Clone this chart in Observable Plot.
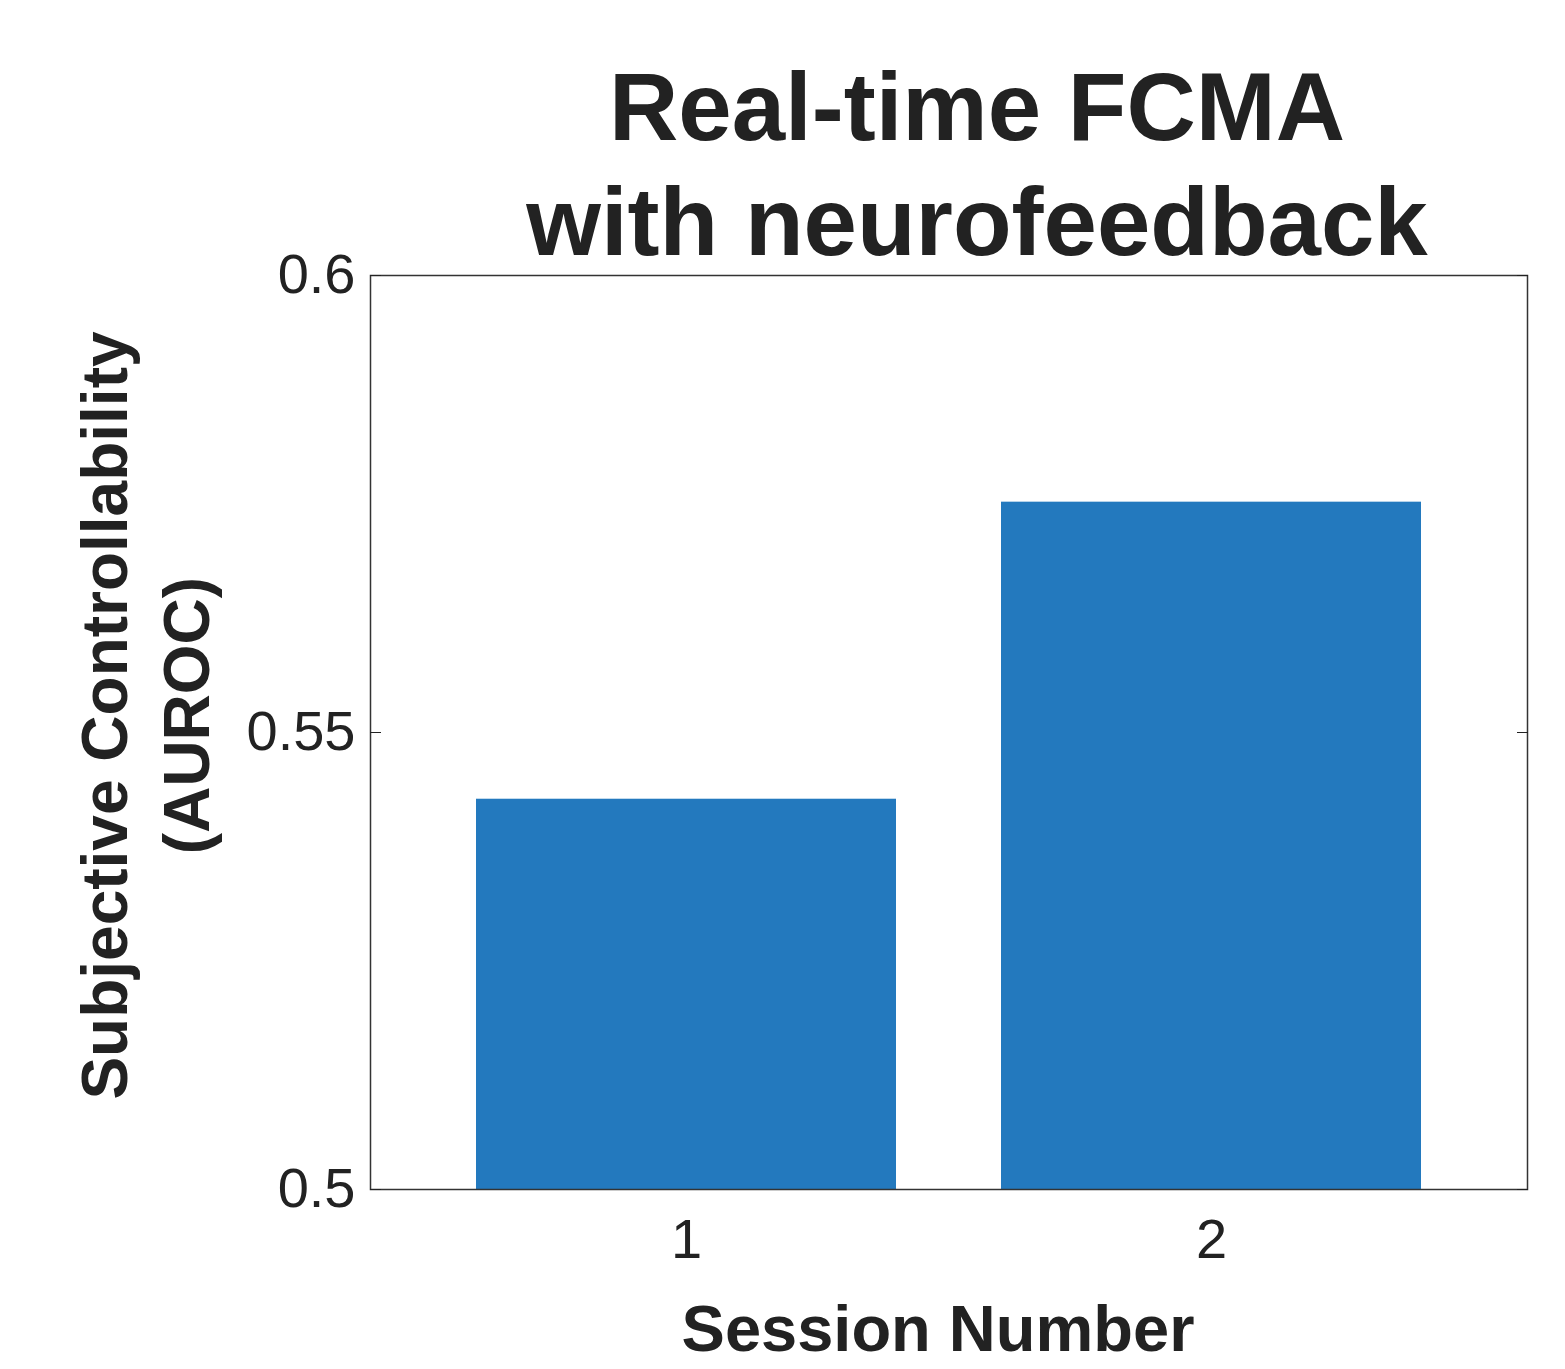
<!DOCTYPE html>
<html>
<head>
<meta charset="utf-8">
<script src="https://cdn.jsdelivr.net/npm/d3@7"></script>
<script src="https://cdn.jsdelivr.net/npm/@observablehq/plot@0.6"></script>
<style>
  html, body { margin: 0; padding: 0; background: #fff; }
  #chart svg { display: block; }
</style>
</head>
<body>
<div id="chart"></div>
<script>
const sessions = ["1", "2"];
const values = [0.5427, 0.5752];
const yTicks = [0.5, 0.55, 0.6];
const titleLines = ["Real-time FCMA", "with neurofeedback"];
const yLabelLines = ["Subjective Controllability", "(AUROC)"];
const xLabel = "Session Number";

const data = sessions.map((s, i) => ({session: s, value: values[i]}));
const ink = "#222222";
const font = "'Liberation Sans', Arial, Helvetica, sans-serif";

const plot = Plot.plot({
  width: 1565,
  height: 1369,
  marginLeft: 370,
  marginRight: 38,
  marginTop: 275,
  marginBottom: 180,
  style: {fontFamily: font, color: ink, background: "#fff"},
  x: {domain: sessions, padding: 0.2, label: null},
  y: {domain: [0.5, 0.6], label: null},
  marks: [
    Plot.barY(data, {x: "session", y: "value", fill: "#2379BE", clip: true}),
    Plot.frame({stroke: "#333", strokeWidth: 1.5}),
    Plot.axisY({anchor: "left", ticks: yTicks, tickSize: -11, tickPadding: 26, tickFormat: d => String(+d.toFixed(2)), fontSize: 56, label: null, stroke: ink, fill: ink}),
    Plot.axisY({anchor: "right", ticks: yTicks, tickSize: -11, tickFormat: () => "", label: null, stroke: ink}),
    Plot.axisX({anchor: "bottom", tickSize: 0, tickPadding: 29, fontSize: 56, label: null, fill: ink}),
    Plot.text([titleLines[0]], {frameAnchor: "top", text: d => d, dx: 28, dy: -166, fontSize: 96, fontWeight: "bold", lineAnchor: "middle", fill: ink}),
    Plot.text([titleLines[1]], {frameAnchor: "top", text: d => d, dx: 28, dy: -51, fontSize: 96, fontWeight: "bold", lineAnchor: "middle", fill: ink}),
    Plot.text([yLabelLines[0]], {frameAnchor: "left", text: d => d, rotate: -90, textAnchor: "middle", dx: -264, dy: -17, fontSize: 64, fontWeight: "bold", lineAnchor: "middle", fill: ink}),
    Plot.text([yLabelLines[1]], {frameAnchor: "left", text: d => d, rotate: -90, textAnchor: "middle", dx: -182, dy: -17, fontSize: 64, fontWeight: "bold", lineAnchor: "middle", fill: ink}),
    Plot.text([xLabel], {frameAnchor: "bottom", text: d => d, dx: -11, dy: 141, fontSize: 65, fontWeight: "bold", lineAnchor: "middle", fill: ink})
  ]
});
document.getElementById("chart").appendChild(plot);
</script>
</body>
</html>
